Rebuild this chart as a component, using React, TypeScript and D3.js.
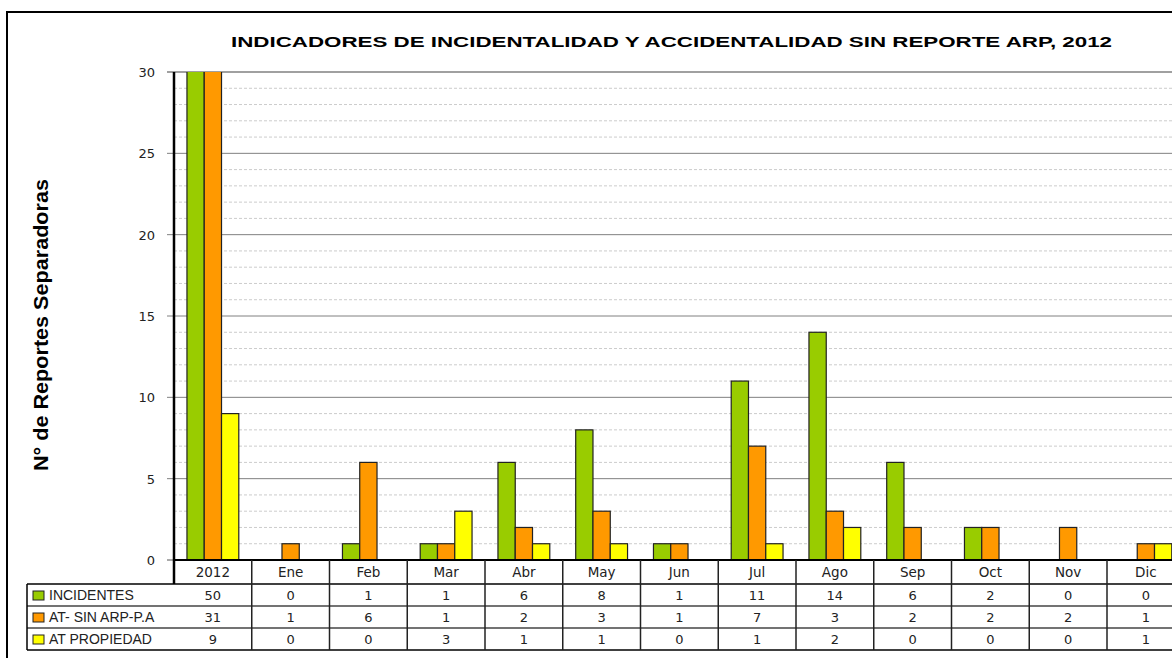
import React, { useEffect, useRef } from "react";
import * as d3 from "d3";

const categories = ["2012", "Ene", "Feb", "Mar", "Abr", "May", "Jun", "Jul", "Ago", "Sep", "Oct", "Nov", "Dic"];
const seriesNames = ["INCIDENTES", "AT- SIN ARP-P.A", "AT PROPIEDAD"];
const incidentes = [50, 0, 1, 1, 6, 8, 1, 11, 14, 6, 2, 0, 0];
const atSinArp = [31, 1, 6, 1, 2, 3, 1, 7, 3, 2, 2, 2, 1];
const atPropiedad = [9, 0, 0, 3, 1, 1, 0, 1, 2, 0, 0, 0, 1];
const seriesColors = ["#99CC00", "#FF9900", "#FFFF00"];
const yTicks = [0, 5, 10, 15, 20, 25, 30];

const W = 1172;
const H = 658;

export default function App() {
  const ref = useRef<SVGSVGElement>(null);

  useEffect(() => {
    const svg = d3.select(ref.current);
    svg.selectAll("*").remove();

    const left = 174;
    const top = 72;
    const bottom = 560;
    const step = 77.75;
    const series = [incidentes, atSinArp, atPropiedad];

    const x = d3.scaleBand().domain(categories).range([left, left + step * categories.length]).padding(0);
    const xs = d3.scaleBand().domain(seriesNames).range([0, x.bandwidth()]).paddingInner(0).paddingOuter(0.75);
    const y = d3.scaleLinear().domain([0, 30]).range([bottom, top]);

    // outer frame
    svg.append("rect")
      .attr("x", 7).attr("y", 12).attr("width", W + 20).attr("height", H + 20)
      .attr("fill", "white").attr("stroke", "#000").attr("stroke-width", 2);

    // title
    svg.append("text")
      .attr("x", 231).attr("y", 47)
      .attr("textLength", 881).attr("lengthAdjust", "spacingAndGlyphs")
      .style("font-family", "Liberation Sans, Arial, sans-serif")
      .style("font-weight", "bold").style("font-size", "15px")
      .text("INDICADORES DE INCIDENTALIDAD Y ACCIDENTALIDAD SIN REPORTE ARP, 2012");

    // y title
    svg.append("text")
      .attr("transform", `translate(48, 325) rotate(-90)`)
      .attr("text-anchor", "middle")
      .attr("textLength", 292).attr("lengthAdjust", "spacingAndGlyphs")
      .style("font-family", "Liberation Sans Narrow, Arial Narrow, Liberation Sans, sans-serif")
      .style("font-weight", "bold").style("font-size", "20px")
      .text("N° de Reportes Separadoras");

    // minor grid
    const minor = d3.range(1, 30).filter(v => v % 5 !== 0);
    svg.append("g").selectAll("line").data(minor).join("line")
      .attr("x1", left).attr("x2", W + 20)
      .attr("y1", d => y(d)).attr("y2", d => y(d))
      .attr("stroke", "#cccccc").attr("stroke-width", 1).attr("stroke-dasharray", "3,2");

    // major grid
    svg.append("g").selectAll("line").data(yTicks.filter(v => v > 0)).join("line")
      .attr("x1", left - 7).attr("x2", W + 20)
      .attr("y1", d => y(d)).attr("y2", d => y(d))
      .attr("stroke", d => (d === 30 ? "#a0a0a0" : "#808080"))
      .attr("stroke-width", d => (d === 30 ? 2 : 1));

    // y tick labels
    svg.append("g").selectAll("text").data(yTicks).join("text")
      .attr("x", 155).attr("y", d => y(d) + 5)
      .attr("text-anchor", "end")
      .style("font-family", "DejaVu Sans, sans-serif").style("font-size", "13px").attr("fill", "#222")
      .text(d => d);
    svg.append("line").attr("x1", left - 7).attr("x2", left).attr("y1", bottom).attr("y2", bottom)
      .attr("stroke", "#555");

    // bars
    svg.append("clipPath").attr("id", "plotclip")
      .append("rect").attr("x", left).attr("y", top).attr("width", W).attr("height", bottom - top);

    const barData = categories.flatMap((c, i) =>
      seriesNames.map((s, j) => ({ cat: c, name: s, value: series[j][i], color: seriesColors[j] }))
    ).filter(d => d.value > 0);

    svg.append("g").attr("clip-path", "url(#plotclip)")
      .selectAll("rect").data(barData).join("rect")
      .attr("x", d => (x(d.cat) as number) + (xs(d.name) as number))
      .attr("y", d => y(Math.min(d.value, 31)))
      .attr("width", xs.bandwidth())
      .attr("height", d => bottom - y(Math.min(d.value, 31)))
      .attr("fill", d => d.color)
      .attr("stroke", "#222").attr("stroke-width", 1.2);

    // axes
    svg.append("line").attr("x1", left).attr("x2", left).attr("y1", top).attr("y2", 584)
      .attr("stroke", "#000").attr("stroke-width", 2.5);

    // data table
    const rowTops = [584, 606, 628, 650];
    const tableRight = left + step * categories.length;
    const tbl = svg.append("g");

    tbl.append("line").attr("x1", left).attr("x2", tableRight).attr("y1", bottom).attr("y2", bottom)
      .attr("stroke", "#000").attr("stroke-width", 2);
    rowTops.forEach((ry, i) => {
      tbl.append("line").attr("x1", 27).attr("x2", tableRight).attr("y1", ry).attr("y2", ry)
        .attr("stroke", i === 0 || i === 3 ? "#000" : "#444").attr("stroke-width", 1.5);
    });
    tbl.append("line").attr("x1", 27).attr("x2", 27).attr("y1", 584).attr("y2", 650)
      .attr("stroke", "#000").attr("stroke-width", 1.5);
    tbl.selectAll(".vline").data(categories.slice(1)).join("line")
      .attr("class", "vline")
      .attr("x1", d => x(d) as number).attr("x2", d => x(d) as number)
      .attr("y1", bottom).attr("y2", 650)
      .attr("stroke", "#222").attr("stroke-width", 1.5);

    tbl.selectAll(".cat").data(categories).join("text")
      .attr("class", "cat")
      .attr("x", d => (x(d) as number) + x.bandwidth() / 2).attr("y", 577)
      .attr("text-anchor", "middle")
      .style("font-family", "DejaVu Sans, sans-serif").style("font-size", "13.5px").attr("fill", "#222")
      .text(d => d);

    seriesNames.forEach((s, j) => {
      const ry = rowTops[j];
      tbl.append("rect").attr("x", 33).attr("y", ry + 7).attr("width", 11).attr("height", 9)
        .attr("fill", seriesColors[j]).attr("stroke", "#222").attr("stroke-width", 1);
      tbl.append("text").attr("x", 49).attr("y", ry + 16)
        .style("font-family", "Liberation Sans, Arial, sans-serif").style("font-size", "14px").attr("fill", "#222")
        .text(s);
      tbl.selectAll(`.val${j}`).data(series[j]).join("text")
        .attr("class", `val${j}`)
        .attr("x", (_d, i) => (x(categories[i]) as number) + x.bandwidth() / 2).attr("y", ry + 16)
        .attr("text-anchor", "middle")
        .style("font-family", "DejaVu Sans, sans-serif").style("font-size", "13px").attr("fill", "#222")
        .text(d => d);
    });
  }, []);

  return (
    <svg ref={ref} width={W} height={H} style={{ position: "absolute", left: 0, top: 0, background: "white" }} />
  );
}
